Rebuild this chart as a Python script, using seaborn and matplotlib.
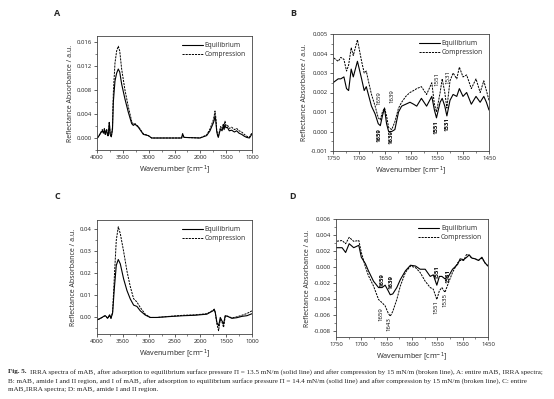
import numpy as np
import pandas as pd
import matplotlib
matplotlib.use("Agg")
import matplotlib.pyplot as plt
from matplotlib.ticker import MultipleLocator, FormatStrFormatter
import seaborn as sns

# ---- Panel A: mAB1, full spectrum ----
a_wn = [4000, 3974, 3923, 3897, 3875, 3858, 3840, 3832, 3813, 3795, 3781, 3762, 3745, 3723,
        3700, 3684, 3652, 3620, 3588, 3560, 3523, 3459, 3394, 3329, 3297, 3265, 3200, 3103,
        3007, 2942, 2700, 2362, 2343, 2317, 2007, 1878, 1813, 1749, 1730, 1716, 1700, 1684,
        1668, 1652, 1630, 1607, 1580, 1555, 1540, 1523, 1505, 1478, 1440, 1394, 1340, 1297,
        1250, 1200, 1150, 1103, 1051, 1006]
a_eq = [0.0000, 0.0002, 0.0009, 0.0012, 0.0008, 0.0013, 0.0006, 0.0009, 0.0013, 0.0004,
        0.0004, 0.0026, 0.0006, 0.0002, 0.0015, 0.0060, 0.0095, 0.0108, 0.0115, 0.0110,
        0.0090, 0.0065, 0.0043, 0.0024, 0.0021, 0.0023, 0.0018, 0.0006, 0.0004, 0.0000,
        0.0000, 0.0000, 0.0007, 0.0001, 0.0000, 0.0004, 0.0012, 0.0025, 0.0030, 0.0037,
        0.0028, 0.0012, 0.0005, 0.0001, 0.0009, 0.0015, 0.0012, 0.0020, 0.0014, 0.0022,
        0.0017, 0.0018, 0.0012, 0.0013, 0.0010, 0.0012, 0.0008, 0.0006, 0.0003, 0.0001,
        0.0000, 0.0006]
a_comp = [0.0000, 0.0002, 0.0010, 0.0014, 0.0009, 0.0016, 0.0007, 0.0010, 0.0015, 0.0004,
          0.0004, 0.0027, 0.0006, 0.0002, 0.0018, 0.0075, 0.0125, 0.0145, 0.0153, 0.0145,
          0.0115, 0.0080, 0.0052, 0.0028, 0.0023, 0.0024, 0.0019, 0.0007, 0.0004, 0.0000,
          0.0000, 0.0000, 0.0007, 0.0001, 0.0000, 0.0005, 0.0015, 0.0030, 0.0038, 0.0045,
          0.0034, 0.0014, 0.0006, 0.0002, 0.0011, 0.0019, 0.0015, 0.0024, 0.0018, 0.0028,
          0.0021, 0.0022, 0.0016, 0.0018, 0.0014, 0.0016, 0.0012, 0.0010, 0.0006, 0.0003,
          0.0001, 0.0008]

# ---- Panel B: mAB1, amide I and II region ----
b_wn = [1750, 1745, 1740, 1735, 1729, 1724, 1720, 1715, 1711, 1703, 1695, 1690, 1686, 1682,
        1676, 1669, 1663, 1659, 1655, 1651, 1647, 1643, 1637, 1631, 1624, 1618, 1610, 1602,
        1595, 1589, 1580, 1570, 1560, 1555, 1551, 1544, 1540, 1535, 1531, 1525, 1519, 1512,
        1507, 1500, 1493, 1484, 1475, 1467, 1460, 1455, 1450]
b_eq = [0.0025, 0.0026, 0.0027, 0.0027, 0.0028, 0.0022, 0.0021, 0.0032, 0.0028, 0.0036,
        0.0027, 0.0021, 0.0023, 0.0019, 0.0013, 0.0009, 0.0004, 0.0003, 0.0008, 0.0012,
        0.0004, 0.0000, 0.0000, 0.0001, 0.0010, 0.0013, 0.0014, 0.0015, 0.0014, 0.0013,
        0.0017, 0.0013, 0.0018, 0.0011, 0.0007, 0.0015, 0.0017, 0.0013, 0.0008, 0.0016,
        0.0019, 0.0018, 0.0022, 0.0018, 0.0020, 0.0014, 0.0018, 0.0015, 0.0018, 0.0015,
        0.0011]
b_comp = [0.0038, 0.0037, 0.0036, 0.0038, 0.0037, 0.0031, 0.0034, 0.0043, 0.0039, 0.0047,
          0.0036, 0.0030, 0.0031, 0.0026, 0.0019, 0.0013, 0.0007, 0.0006, 0.0010, 0.0012,
          0.0008, 0.0002, 0.0001, 0.0005, 0.0012, 0.0015, 0.0018, 0.0020, 0.0021, 0.0022,
          0.0023, 0.0019, 0.0025, 0.0014, 0.0010, 0.0020, 0.0027, 0.0020, 0.0012, 0.0026,
          0.0030, 0.0027, 0.0033, 0.0028, 0.0029, 0.0022, 0.0027, 0.0020, 0.0026, 0.0021,
          0.0016]

# ---- Panel C: mAB2, full spectrum ----
c_wn = [4000, 3950, 3904, 3870, 3840, 3815, 3795, 3756, 3730, 3698, 3665, 3627, 3588, 3549,
        3485, 3420, 3356, 3291, 3227, 3162, 3066, 2969, 2840, 2600, 2324, 2100, 1873, 1757,
        1730, 1711, 1679, 1647, 1630, 1614, 1582, 1550, 1518, 1473, 1389, 1292, 1195, 1098,
        1000]
c_eq = [-0.0011, -0.0006, 0.0000, 0.0005, 0.0008, 0.0002, -0.0004, 0.0012, -0.0004, 0.0020,
        0.0130, 0.0236, 0.0263, 0.0243, 0.0175, 0.0122, 0.0084, 0.0056, 0.0050, 0.0030,
        0.0011, 0.0000, 0.0000, 0.0004, 0.0008, 0.0010, 0.0015, 0.0030, 0.0035, 0.0023,
        -0.0023, -0.0038, -0.0020, 0.0000, -0.0015, -0.0030, 0.0008, 0.0005, -0.0004,
        -0.0001, 0.0005, 0.0008, 0.0017]
c_comp = [-0.0011, -0.0006, 0.0000, 0.0005, 0.0008, 0.0002, -0.0004, 0.0010, -0.0004, 0.0025,
          0.0180, 0.0350, 0.0411, 0.0380, 0.0300, 0.0210, 0.0140, 0.0085, 0.0070, 0.0045,
          0.0015, 0.0000, 0.0000, 0.0005, 0.0010, 0.0012, 0.0017, 0.0032, 0.0038, 0.0022,
          -0.0030, -0.0060, -0.0035, -0.0010, -0.0020, -0.0045, 0.0006, 0.0006, -0.0002,
          0.0003, 0.0010, 0.0018, 0.0030]

# ---- Panel D: mAB2, amide I and II region ----
d_wn = [1750, 1738, 1731, 1724, 1715, 1705, 1700, 1692, 1686, 1676, 1666, 1659, 1653, 1647,
        1643, 1638, 1630, 1623, 1613, 1603, 1593, 1584, 1574, 1564, 1558, 1551, 1546, 1541,
        1535, 1528, 1520, 1510, 1505, 1498, 1492, 1487, 1482, 1475, 1469, 1462, 1456, 1450]
d_eq = [0.0024, 0.0024, 0.0018, 0.0029, 0.0024, 0.0027, 0.0012, 0.0004, -0.0005, -0.0018,
        -0.0026, -0.0026, -0.0023, -0.0030, -0.0035, -0.0034, -0.0026, -0.0016, -0.0005,
        0.0002, 0.0001, -0.0003, -0.0003, -0.0012, -0.0010, -0.0023, -0.0012, -0.0012,
        -0.0015, -0.0012, -0.0003, 0.0003, 0.0010, 0.0009, 0.0012, 0.0015, 0.0011, 0.0010,
        0.0008, 0.0012, 0.0005, 0.0001]
d_comp = [0.0032, 0.0033, 0.0029, 0.0037, 0.0032, 0.0033, 0.0018, 0.0000, -0.0011, -0.0024,
          -0.0041, -0.0045, -0.0049, -0.0058, -0.0062, -0.0056, -0.0041, -0.0024, -0.0007,
          0.0001, -0.0001, -0.0007, -0.0018, -0.0026, -0.0028, -0.0041, -0.0030, -0.0026,
          -0.0032, -0.0020, -0.0007, 0.0005, 0.0008, 0.0008, 0.0016, 0.0014, 0.0011, 0.0010,
          0.0008, 0.0011, 0.0005, 0.0001]

# peak labels: (wavenumber, y, text, bold)
b_labels = [(1661, -0.0002, "1659", True), (1638, -0.0003, "1639", True),
            (1661, 0.0017, "1659", False), (1637, 0.0018, "1639", False),
            (1551, 0.0002, "1551", True), (1531, 0.0004, "1531", True),
            (1551, 0.0027, "1551", False), (1529, 0.0028, "1531", False)]
d_labels = [(1659, -0.0016, "1659", True), (1641, -0.0019, "1639", True),
            (1662, -0.0059, "1659", False), (1646, -0.0072, "1643", False),
            (1551, -0.0007, "1551", True), (1529, -0.0012, "1531", True),
            (1553, -0.0051, "1551", False), (1534, -0.0042, "1535", False)]

sns.set_style("ticks")
plt.rcParams["font.family"] = ["Open Sans", "DejaVu Sans"]
plt.rcParams["axes.unicode_minus"] = False

fig = plt.figure(figsize=(5.54, 3.99), dpi=100)
TXT = "#222222"


def draw_panel(rect, wn, eq, comp, xlim, xmaj, ylim, ymaj, yfmt, letter, letter_xy, labels=None):
    ax = fig.add_axes(rect)
    sns.lineplot(x=wn, y=eq, ax=ax, color="black", lw=0.8, label="Equilibrium", estimator=None)
    sns.lineplot(x=wn, y=comp, ax=ax, color="black", lw=0.7, linestyle=(0, (2.2, 1.0)),
                 label="Compression", estimator=None)
    ax.set_xlim(*xlim)
    ax.set_ylim(*ylim)
    ax.xaxis.set_major_locator(MultipleLocator(xmaj))
    ax.xaxis.set_minor_locator(MultipleLocator(xmaj / 2))
    ax.yaxis.set_major_locator(MultipleLocator(ymaj))
    ax.yaxis.set_minor_locator(MultipleLocator(ymaj / 2))
    ax.yaxis.set_major_formatter(FormatStrFormatter(yfmt))
    ax.tick_params(which="major", length=2.2, width=0.5, labelsize=4.3, pad=1.5, colors=TXT)
    ax.tick_params(which="minor", length=1.2, width=0.4)
    for s in ax.spines.values():
        s.set_linewidth(0.6)
        s.set_color("#444444")
    ax.set_xlabel("Wavenumber [cm$^{-1}$]", fontsize=5.2, labelpad=2, color=TXT)
    ax.set_ylabel("Reflectance Absorbance / a.u.", fontsize=5.0, labelpad=2, color=TXT)
    ax.legend(loc="upper right", frameon=False, fontsize=4.8, handlelength=3.2,
              handletextpad=0.3, labelspacing=0.35, borderaxespad=0.5)
    fig.text(letter_xy[0] / 554, 1 - letter_xy[1] / 399, letter, fontsize=6.5,
             fontweight="bold", ha="center", va="center")
    if labels:
        for x, y, t, b in labels:
            ax.text(x, y, t, rotation=90, ha="center", va="center", fontsize=4.3,
                    fontweight="bold" if b else "normal", color="black")
    return ax


def rect(l, r, t, b):
    return [l / 554, 1 - b / 399, (r - l) / 554, (b - t) / 399]


draw_panel(rect(97, 252, 36, 150), a_wn, a_eq, a_comp, (4000, 1000), 500,
           (-0.002, 0.017), 0.004, "%.3f", "A", (57, 13))
draw_panel(rect(333, 489, 34, 151), b_wn, b_eq, b_comp, (1750, 1450), 50,
           (-0.001, 0.005), 0.001, "%.3f", "B", (293, 13), b_labels)
draw_panel(rect(97, 252, 220, 334), c_wn, c_eq, c_comp, (4000, 1000), 500,
           (-0.0075, 0.0442), 0.01, "%.2f", "C", (57, 197))
draw_panel(rect(336, 488, 219, 337), d_wn, d_eq, d_comp, (1750, 1450), 50,
           (-0.0088, 0.006), 0.002, "%.3f", "D", (293, 197), d_labels)

# caption
cap_font = ["Liberation Serif", "DejaVu Serif"]
cap_size = 5.1
cap_lines = [
    "IRRA spectra of mAB\u2081 after adsorption to equilibrium surface pressure \u03a0 = 13.5 mN/m "
    "(solid line) and after compression by 15 mN/m (broken line), A: entire mAB\u2081 IRRA spectra;",
    "B: mAB\u2081 amide I and II region, and I of mAB\u2082 after adsorption to equilibrium surface "
    "pressure \u03a0 = 14.4 mN/m (solid line) and after compression by 15 mN/m (broken line), C: entire",
    "mAB\u2082IRRA spectra; D: mAB\u2082 amide I and II region.",
]
fig.text(8 / 554, 1 - 372 / 399, "Fig. 5.", fontsize=cap_size, fontweight="bold",
         family=cap_font, va="center", ha="left")
fig.text(30 / 554, 1 - 372 / 399, cap_lines[0], fontsize=cap_size, family=cap_font,
         va="center", ha="left")
fig.text(8 / 554, 1 - 381 / 399, cap_lines[1], fontsize=cap_size, family=cap_font,
         va="center", ha="left")
fig.text(8 / 554, 1 - 390 / 399, cap_lines[2], fontsize=cap_size, family=cap_font,
         va="center", ha="left")

fig.savefig("out.png", dpi=100)
